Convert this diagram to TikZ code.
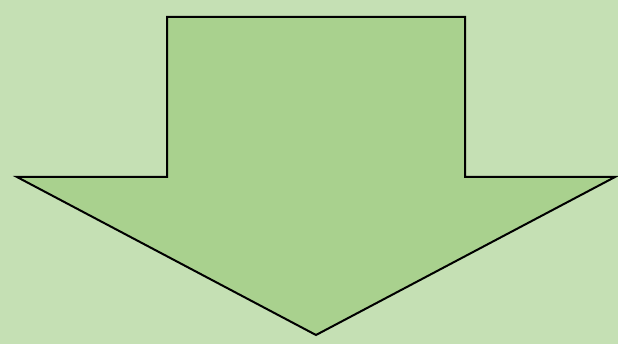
\documentclass[tikz,border=0pt]{standalone}
\definecolor{bggreen}{HTML}{C5E0B4}
\definecolor{arrowgreen}{HTML}{A9D18E}
\tikzset{arrowshape/.style={fill=arrowgreen,draw=black,line width=2pt,line join=miter}}
\begin{document}
\begin{tikzpicture}[x=1pt,y=-1pt]
\fill[bggreen] (0,0) rectangle (618,344);
\useasboundingbox (0,0) rectangle (618,344);
\draw[arrowshape] (167,17) -- (465,17) -- (465,177) -- (615,177) -- (316,335) -- (17,177) -- (167,177) -- cycle;
\end{tikzpicture}
\end{document}
